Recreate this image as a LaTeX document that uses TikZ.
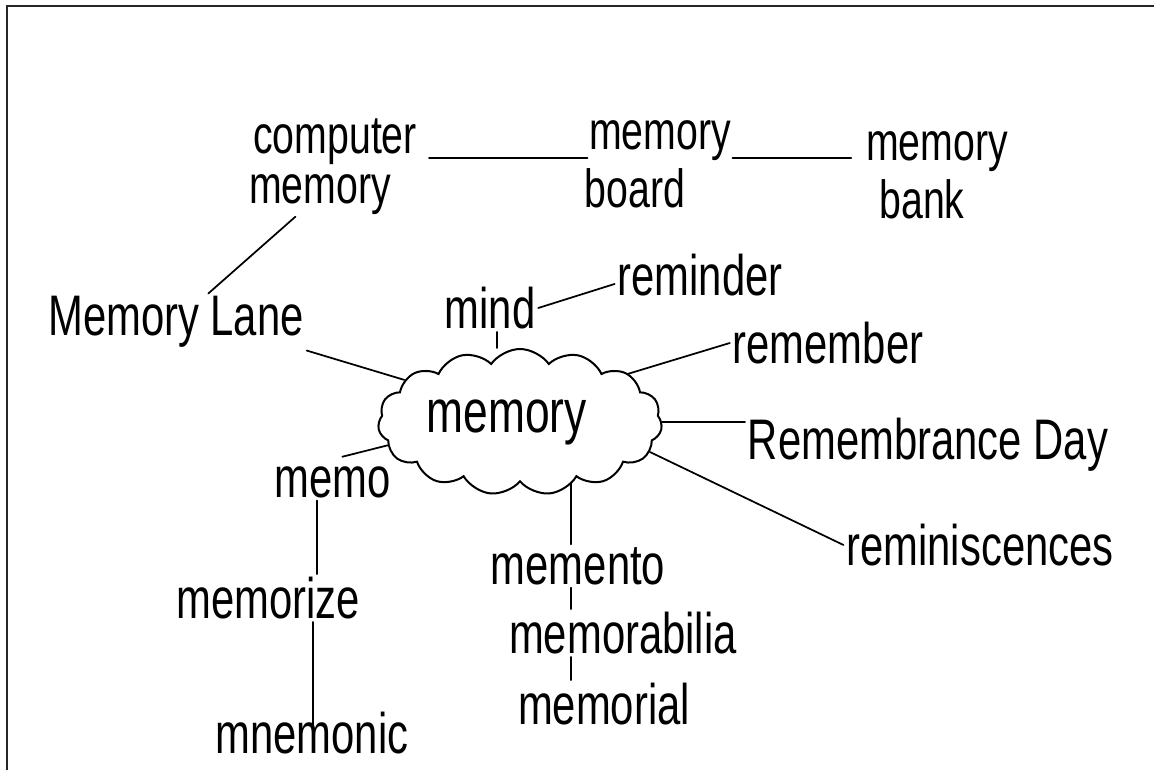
\documentclass[tikz,border=0pt]{standalone}
\usepackage{fontspec}
\usepackage{graphicx}
\setmainfont{Liberation Sans}
\usetikzlibrary{shapes.symbols}
% handwritten-looking words: tall, narrow letters
\newcommand\hw[1]{\scalebox{0.95}[1.3]{#1}}
\begin{document}
\begin{tikzpicture}[x=0.75pt,y=-0.75pt,
  word/.style={inner sep=2pt, font=\fontsize{33}{36}\selectfont},
  pair/.style={inner sep=1pt, font=\fontsize{31}{34}\selectfont},
  link/.style={line width=1.3pt, line cap=round},
  frame/.style={line width=1.6pt, draw=black!85},
  bubble/.style={draw, cloud, cloud puffs=15, cloud puff arc=110, aspect=2.2,
    minimum width=213pt, minimum height=95pt, line width=1.5pt, inner sep=0pt,
    font=\fontsize{35}{38}\selectfont}]
\useasboundingbox (0,0) rectangle (1154,770);
\draw[frame] (1154,6) -- (7,6) -- (7,770);

% central idea
\node[bubble] (cloud) at (520,422) {\hw{memory}\hspace*{20pt}};

% top row of two-line labels
\node[pair] (comp1) at (335,142) {\hw{computer}};
\node[pair] (comp2) at (320,195) {\hw{memory}};
\node[pair] (brd1)  at (660,141) {\hw{memory}};
\node[pair] (brd2)  at (635,188) {\hw{board}};
\node[pair] (bank1) at (937,152) {\hw{memory}};
\node[pair] (bank2) at (922,199) {\hw{bank}};

% around the cloud
\node[word] (lane)     at (176,322) {\hw{Memory Lane}};
\node[word] (mind)     at (490,308) {\hw{mind}};
\node[word] (reminder) at (700,275) {\hw{reminder}};
\node[word] (remember) at (828,343) {\hw{remember}};
\node[word] (remday)   at (928,445) {\hw{Remembrance Day}};
\node[word] (remin)    at (980,545) {\hw{reminiscences}};
\node[word] (memo)     at (333,482) {\hw{memo}};
\node[word] (memorize) at (268,598) {\hw{memorize}};
\node[word] (mnemonic) at (312,733) {\hw{mnemonic}};
\node[word] (memento)  at (578,566) {\hw{memento}};
\node[word] (memorab)  at (623,633) {\hw{memorabilia}};
\node[word] (memorial) at (604,704) {\hw{memorial}};

% connectors
\draw[link] ([xshift=8pt,yshift=-12pt]comp1.east) -- ([yshift=-12pt]brd1.west |- comp1.east);
\draw[link] ([yshift=-12pt]comp1.east -| brd1.east) -- ([xshift=-10pt,yshift=-12pt]bank1.west |- comp1.east);
\draw[link] (comp2) -- (lane);
\draw[link] (lane.south east) -- (cloud.160);
\draw[link] (mind.east) -- (reminder.186);
\draw[link] ([xshift=5pt]mind.south) -- ([xshift=5pt]mind.south |- cloud.north);
\draw[link] (remember.west) -- (cloud.24);
\draw[link] (cloud.east) -- (cloud.east -| remday.west);
\draw[link] (cloud.-13) -- (remin.west);
\draw[link] (cloud.190) -- ([xshift=7pt,yshift=5pt]memo.north);
\draw[link] ([xshift=-12pt]memo.south) -- ([xshift=-12pt]memo.south |- memorize.north);
\draw[link] ([xshift=34pt]memorize.south) -- ([xshift=34pt]memorize.south |- mnemonic.center);
\draw[link] ([xshift=-5pt]memento.north) -- ([xshift=-5pt]memento.north |- cloud.south);
\draw[link] ([xshift=-5pt]memento.south) -- ([xshift=-5pt]memento.south |- memorab.north);
\draw[link] ([xshift=-5pt]memento.south |- memorab.south) -- ([xshift=-5pt]memento.south |- memorial.north);
\end{tikzpicture}
\end{document}
